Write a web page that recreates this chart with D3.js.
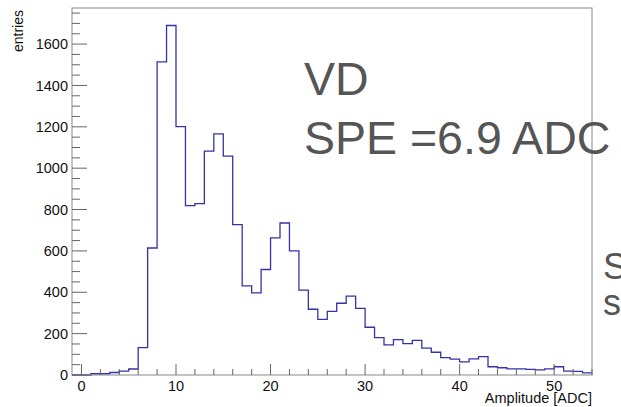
<!DOCTYPE html>
<html>
<head>
<meta charset="utf-8">
<script src="https://cdn.jsdelivr.net/npm/d3@7"></script>
<style>
  body { margin: 0; background: #fff; }
  svg { display: block; font-family: "Liberation Sans", Arial, sans-serif; }
</style>
</head>
<body>
<script>
// lower bin edges, width 1 ADC
const binLow = d3.range(-1, 54);
const counts = [
  0, 0, 6, 6, 12, 19, 29, 132, 614, 1514,
  1690, 1201, 819, 829, 1082, 1166, 1058, 727, 431, 397,
  510, 663, 735, 600, 410, 318, 269, 308, 347, 381,
  322, 231, 181, 146, 171, 152, 167, 130, 110, 84,
  77, 63, 78, 89, 40, 35, 30, 30, 27, 25,
  30, 40, 19, 18, 10
];
const xTicks = [0, 10, 20, 30, 40, 50];
const yTicks = [0, 200, 400, 600, 800, 1000, 1200, 1400, 1600];
const labelLines = ["VD", "SPE =6.9 ADC"];
const sideLines = ["S", "s"];

const W = 621, H = 407;
const padL = 72, padR = 592, padT = 8, padB = 375;

const svg = d3.select("body").append("svg")
  .attr("width", W)
  .attr("height", H);

const x = d3.scaleLinear().domain([-1, 54]).range([padL, padR]);
const y = d3.scaleLinear().domain([0, d3.max(counts) * 1.05]).range([padB, padT]);

// histogram outline
const pts = [];
binLow.forEach((b, i) => {
  pts.push([x(b), y(counts[i])]);
  pts.push([x(b + 1), y(counts[i])]);
});
svg.append("path")
  .attr("d", d3.line()(pts))
  .attr("fill", "none")
  .attr("stroke", "#3333a6")
  .attr("stroke-width", 1.3);

// frame
svg.append("rect")
  .attr("x", padL).attr("y", padT)
  .attr("width", padR - padL).attr("height", padB - padT)
  .attr("fill", "none")
  .attr("stroke", "#888")
  .attr("stroke-width", 1);

// y ticks (inside, ROOT style)
const yMinor = d3.range(0, 1775, 50);
svg.selectAll(".ymin").data(yMinor).enter().append("line")
  .attr("x1", padL).attr("x2", (d) => padL + (d % 200 === 0 ? 15 : 8))
  .attr("y1", (d) => y(d)).attr("y2", (d) => y(d))
  .attr("stroke", "#666");
svg.selectAll(".ylab").data(yTicks).enter().append("text")
  .attr("x", padL - 4)
  .attr("y", (d) => y(d))
  .attr("dy", "0.36em")
  .attr("text-anchor", "end")
  .attr("font-size", 14.5)
  .attr("fill", "#111")
  .text((d) => d);

// x ticks
const xMinor = d3.range(0, 55, 2);
svg.selectAll(".xmin").data(xMinor).enter().append("line")
  .attr("x1", (d) => x(d)).attr("x2", (d) => x(d))
  .attr("y1", padB).attr("y2", (d) => padB - (d % 10 === 0 ? 11 : 6))
  .attr("stroke", "#666");
svg.selectAll(".xlab").data(xTicks).enter().append("text")
  .attr("x", (d) => x(d))
  .attr("y", 391)
  .attr("text-anchor", "middle")
  .attr("font-size", 14.5)
  .attr("fill", "#111")
  .text((d) => d);

// axis titles
svg.append("text")
  .attr("x", padR)
  .attr("y", 402.5)
  .attr("text-anchor", "end")
  .attr("font-size", 14.5)
  .attr("fill", "#111")
  .text("Amplitude [ADC]");
svg.append("text")
  .attr("transform", "translate(22.5,10) rotate(-90)")
  .attr("text-anchor", "end")
  .attr("font-size", 14)
  .attr("fill", "#111")
  .text("entries");

// big labels
svg.selectAll(".big").data(labelLines).enter().append("text")
  .attr("x", 304)
  .attr("y", (d, i) => 95 + i * 58.5)
  .attr("font-size", 46.5)
  .attr("fill", "#555")
  .text((d) => d);

svg.selectAll(".side").data(sideLines).enter().append("text")
  .attr("x", 603)
  .attr("y", (d, i) => 279 + i * 36)
  .attr("font-size", 36)
  .attr("fill", "#555")
  .text((d) => d);
</script>
</body>
</html>
